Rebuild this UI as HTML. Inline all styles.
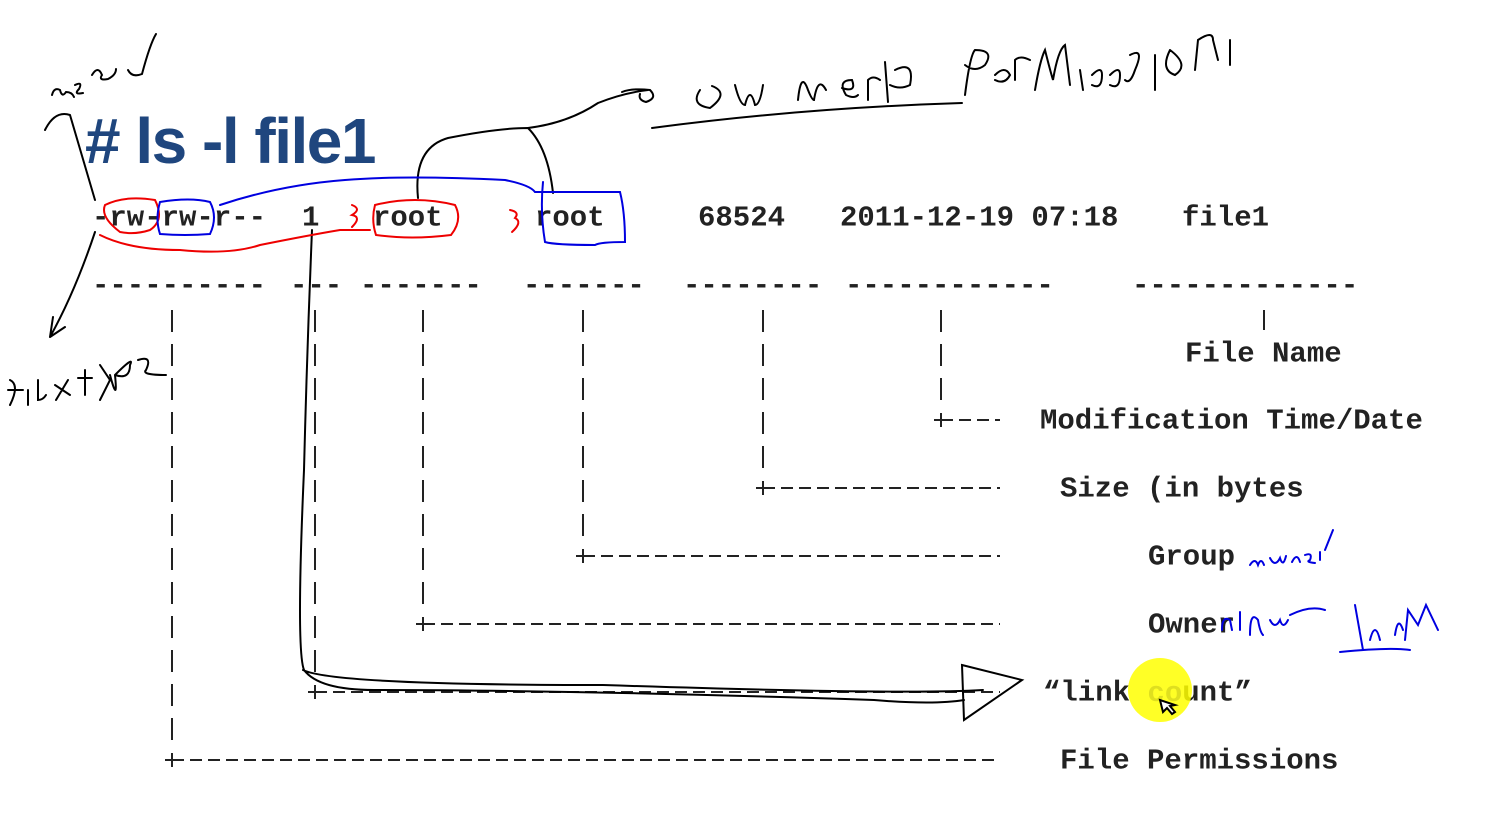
<!DOCTYPE html>
<html><head><meta charset="utf-8"><style>
html,body{margin:0;padding:0;background:#fff;width:1488px;height:823px;overflow:hidden}
</style></head><body>
<svg width="1488" height="823" xmlns="http://www.w3.org/2000/svg" style="position:absolute;left:0;top:0">
<g font-family="Liberation Mono, monospace" font-weight="bold" font-size="29" fill="#222" dominant-baseline="central">
<text x="92" y="218">-rw-rw-r--</text>
<text x="302" y="218">1</text>
<text x="373" y="218">root</text>
<text x="535" y="218">root</text>
<text x="698" y="218">68524</text>
<text x="840" y="218">2011-12-19 07:18</text>
<text x="1182" y="218">file1</text>
<text x="92" y="286">----------</text>
<text x="290" y="286">---</text>
<text x="360" y="286">-------</text>
<text x="523" y="286">-------</text>
<text x="683" y="286">--------</text>
<text x="845" y="286">------------</text>
<text x="1132" y="286">-------------</text>
<text x="1185" y="354">File Name</text>
<text x="1040" y="421">Modification Time/Date</text>
<text x="1060" y="489" xml:space="preserve">Size (in bytes</text>
<text x="1148" y="557">Group</text>
<text x="1148" y="625">Owner</text>
<text x="1043" y="693" xml:space="preserve">“link <tspan fill="#2a2ad0">co</tspan>unt”</text>
<text x="1060" y="761">File Permissions</text>
</g>
<g stroke="#222" stroke-width="2" fill="none">
<path d="M172 310V740" stroke-dasharray="22 12"/>
<path d="M315 310V680" stroke-dasharray="22 12"/>
<path d="M423 310V612" stroke-dasharray="22 12"/>
<path d="M583 310V545" stroke-dasharray="22 12"/>
<path d="M763 310V476" stroke-dasharray="22 12"/>
<path d="M941 310V408" stroke-dasharray="22 12"/>
<path d="M1264 310V330"/>
<path d="M172 760H1000" stroke-dasharray="12 6"/>
<path d="M315 692H1000" stroke-dasharray="12 6"/>
<path d="M423 624H1000" stroke-dasharray="12 6"/>
<path d="M583 556H1000" stroke-dasharray="12 6"/>
<path d="M763 488H1000" stroke-dasharray="12 6"/>
<path d="M941 420H1000" stroke-dasharray="12 6"/>
<path d="M165 760h14M172 753v14M308 692h14M315 685v14M416 624h14M423 617v14M576 556h14M583 549v14M756 488h14M763 481v14M934 420h14M941 413v14"/>
</g>
<circle cx="1160" cy="690" r="32" fill="#ffff00" opacity="0.85"/>
<text x="85" y="163" font-family="Liberation Sans, sans-serif" font-weight="bold" font-size="64" fill="#1f467e" letter-spacing="-1.5">#  ls -l file1</text>
<g stroke="#000" stroke-width="2" fill="none" stroke-linecap="round">
<path d="M52 95q2-8 8-5q2 8 6 2q6 0 8 5M75 85q8-4 4 4q-6 6 4 4M92 75q6-10 10 0q-4 6 6 4q8-4 8-10M128 70q4 8 14 4q8-30 14-40"/>
<path d="M95 200L70 115M45 130q10-20 25-15"/>
<path d="M95 232q-20 60-45 105M50 337l3-20M50 337l15-10"/>
<path d="M10 380q10 5 0 25M8 390h15M28 390v15M38 380v20q5 0 8-5M55 385l15 10M68 380l-12 20M85 370v25M78 378h14M100 365l10 15-10 20M110 375q8 30 5 0q20-20 15-10q0 15-15 10M138 360q15-5 8 10q-5 5 20 5"/>
<path d="M418 198q-5-50 30-60q50-10 80-10q20 20 25 65"/>
<path d="M528 128q40-5 70-25q25-10 50-13M622 92q10-4 28-2q8 8-4 12q-8-2-6-8"/>
<path d="M700 90q-10 15 10 18q20-15 2-22M735 85q5 20 10 20q5-20 10 0q5 0 8-20M798 100q3-30 10-10q4 10 6 10q4-25 12-10M842 88q15 5 10-8q-15 0-6 15q8 4 12 0M868 100v-20q5-5 12 0M885 62l3 40M895 70q20-10 15 15q-10 5-20 0M652 128q150-20 310-25"/>
<path d="M965 95q5-40 10-45q20 0 10 15q-10 8-20 0M995 75q10-10 15 0q-5 10-15 5M1015 80v-20q5-5 15 0M1035 90q5-30 10-40q5 20 8 30q5-30 12-35l5 40M1080 70l3 20M1092 75q10-10 10 0q0 15-10 10M1110 75q10-10 10 0q0 15-10 10M1130 55q15-8 5 15q-5 15-10 10M1155 55v35M1170 50q-10 20 5 25q15-10-5-25M1195 70l3-30q15-10 15 0l5 20M1230 40v25"/>
<path d="M312 230q-5 120-8 240q-8 180 0 200q15 20 70 20q200 0 500 10q60 5 90 0M303 670q30 15 300 15q300 10 380 5"/>
<path d="M962 665l60 15-58 40z"/>
<path d="M1160 700l3 12 4-4 5 6 3-2-5-6 5-1z" fill="#fff"/>
</g>
<g stroke="#e00" stroke-width="2" fill="none" stroke-linecap="round">
<path d="M105 205q20-10 50-5q10 20-5 30q-15 5-30 2q-20-15-15-27z"/>
<path d="M100 235q30 15 80 15q50 5 80-5q50-10 80-15h30"/>
<path d="M352 205q10 4 0 10q10 2 0 12M375 205q40-10 80 0q8 15-4 30q-40 5-75 0q-5-15-1-30z"/>
<path d="M510 210q10 2 5 8q8 4-3 14"/>
</g>
<g stroke="#0000e0" stroke-width="2" fill="none" stroke-linecap="round">
<path d="M160 202q30-5 50 0q8 15 0 32q-25 2-50 0q-5-15 0-32z"/>
<path d="M220 205q60-20 125-25q60-5 160 0q25 5 30 12h85q5 20 5 50q-25 0-30 3q-40 0-50-3q-5-30-2-60"/>
<path d="M1250 565q5-8 8 0q3-8 6 0M1270 558q5 10 10 0q3 10 6-2M1292 562q5-10 8 0M1305 555q8-3 5 5q-5 2 5 3M1320 560v-8M1325 550l8-20"/>
<path d="M1222 630q0-15 8-10l2 10M1240 630v-18M1250 635q0-25 8-15q2 12 5 15M1270 620q5 10 10 0q3 10 8 0M1290 615q20-10 35-5M1340 652q50-5 70-2M1355 605l8 45M1370 640q5-20 10 0M1395 635q3-20 8-5M1405 640l3-30l10 15l8-20l12 25"/>
</g>
</svg>
</body></html>
